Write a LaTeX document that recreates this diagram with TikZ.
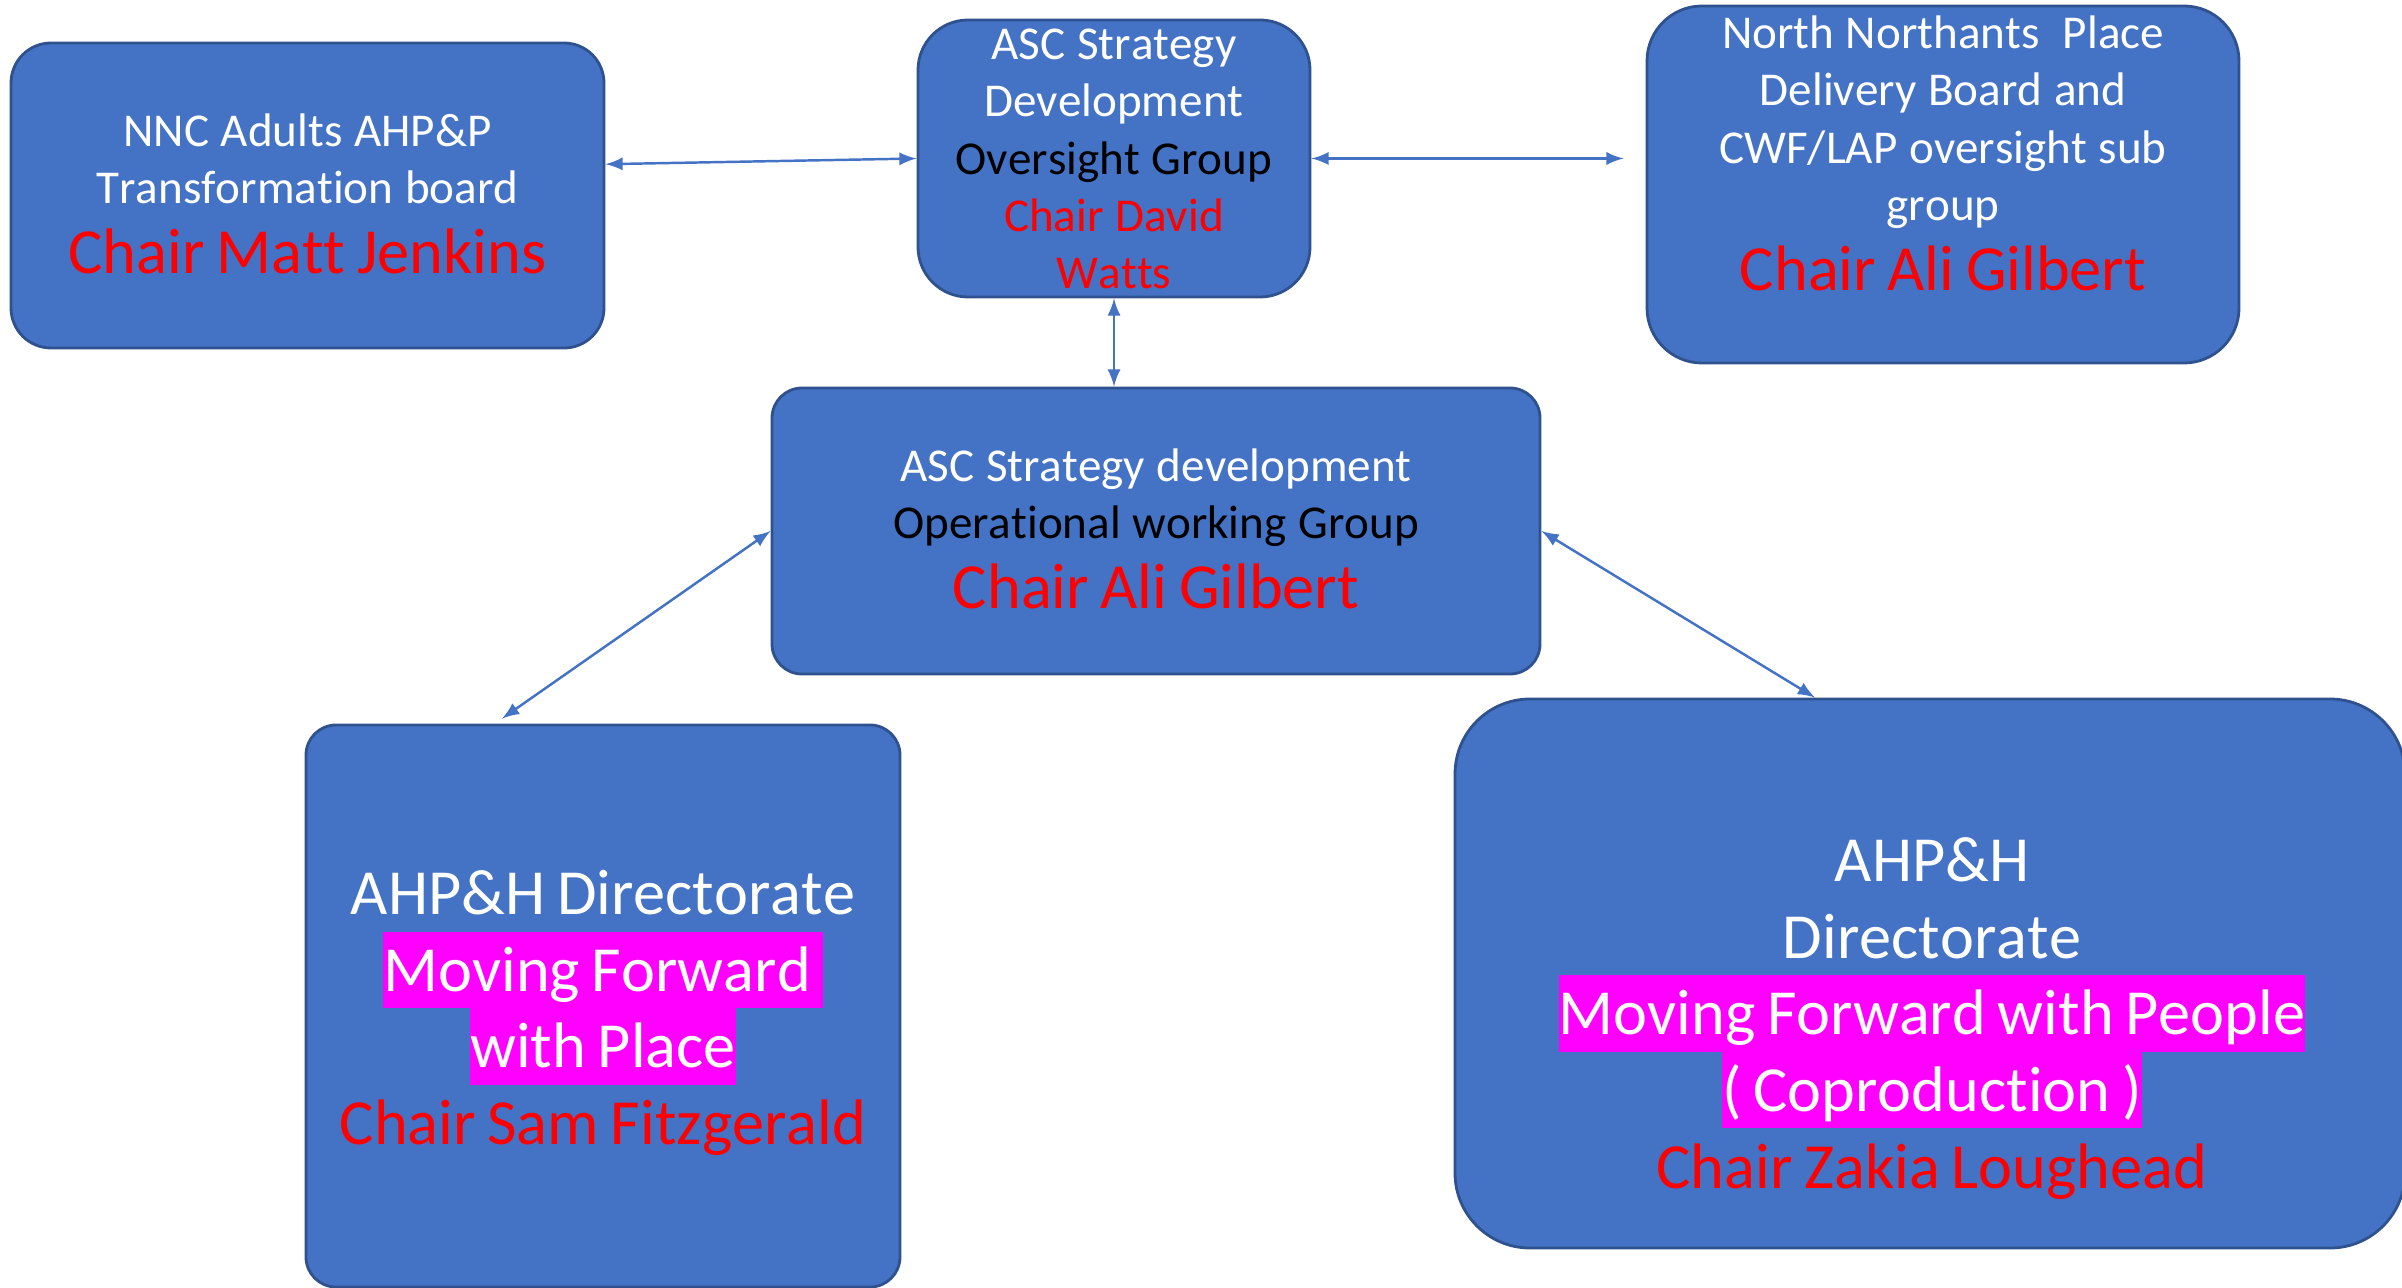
\documentclass[tikz,border=0pt]{standalone}
\usepackage{fontspec}
\setmainfont{Carlito}[Ligatures=NoCommon,Kerning=Off]
\definecolor{boxblue}{HTML}{4472C4}
\definecolor{boxline}{HTML}{2F528F}
\definecolor{chairred}{HTML}{FF0000}
\definecolor{hlpink}{HTML}{FF00FF}
\newcommand{\smallsize}{\fontsize{13.4}{16.3}\selectfont}
\newcommand{\chairsize}{\fontsize{18.3}{20}\selectfont}
\newcommand{\largesize}{\fontsize{18.3}{21.8}\selectfont\lineskiplimit=-3pt}
\newcommand{\hlline}[1]{{\setlength{\fboxsep}{0pt}\colorbox{hlpink}{\rule[-4.8pt]{0pt}{21.8pt}#1}}}
\begin{document}
\begin{tikzpicture}[
  board/.style={draw=boxline,line width=0.8pt,fill=boxblue,inner sep=0pt},
  boardtext/.style={text=white,align=center,inner sep=0pt},
  link/.style={draw=boxblue,line width=0.7pt,latex-latex}
  ]
\useasboundingbox (0,0) rectangle (24.02,-12.88);
% boxes
\node[board,rounded corners=0.4cm,minimum width=5.93cm,minimum height=3.05cm] (nnc) at (3.075,-1.955) {};
\node[board,rounded corners=0.5cm,minimum width=3.92cm,minimum height=2.77cm] (oversight) at (11.14,-1.585) {};
\node[board,rounded corners=0.55cm,minimum width=5.92cm,minimum height=3.57cm] (north) at (19.43,-1.845) {};
\node[board,rounded corners=0.3cm,minimum width=7.68cm,minimum height=2.86cm] (operational) at (11.56,-5.31) {};
\node[board,rounded corners=0.3cm,minimum width=5.94cm,minimum height=5.62cm] (place) at (6.03,-10.06) {};
\node[board,rounded corners=0.75cm,minimum width=9.5cm,minimum height=5.49cm] (people) at (19.30,-9.735) {};
% texts
\node[boardtext,text width=5.9cm] (nnc-txt) at (3.075,-1.94) {%
  {\smallsize NNC Adults AHP\&P\\ Transformation board\par}
  {\chairsize\color{chairred}Chair Matt Jenkins\par}};
\node[boardtext,text width=3.9cm] (oversight-txt) at (11.14,-1.59) {%
  {\smallsize ASC Strategy\\ Development\\ \color{black}Oversight Group\\ \color{chairred}Chair David\\ Watts\par}};
\node[boardtext,text width=5.9cm] (north-txt) at (19.43,-1.535) {%
  {\smallsize North Northants~ Place\\ Delivery Board and\\ CWF/LAP oversight sub\\ group\par}
  {\chairsize\color{chairred}Chair Ali Gilbert\par}};
\node[boardtext,text width=7.6cm] (operational-txt) at (11.56,-5.29) {%
  {\smallsize ASC Strategy development\\ \color{black}Operational working Group\par}
  {\chairsize\color{chairred}Chair Ali Gilbert\par}};
\node[boardtext,text width=5.9cm] (place-txt) at (6.03,-10.13) {%
  {\largesize AHP\&H Directorate\\ \hlline{Moving Forward }\\ \hlline{with Place}\\
  \color{chairred}Chair Sam Fitzgerald\par}};
\node[boardtext,text width=9.4cm] (people-txt) at (19.32,-10.185) {%
  {\largesize AHP\&H\\ Directorate\\ \hlline{Moving Forward with People}\\ \hlline{( Coproduction )}\\
  \color{chairred}Chair Zakia Loughead\par}};
% links
\coordinate (north-in) at ([xshift=-0.22cm]north.west |- oversight.east);
\coordinate (place-in) at ([xshift=-1.01cm,yshift=0.05cm]place.north);
\coordinate (people-in) at ([xshift=-1.15cm]people.north);
\draw[link] (nnc.6) -- (oversight.west);
\draw[link] (oversight.east) -- (north-in);
\draw[link] (oversight.south) -- (oversight.south |- operational.north);
\draw[link] (operational.west) -- (place-in);
\draw[link] (operational.east) -- (people-in);
\end{tikzpicture}
\end{document}
